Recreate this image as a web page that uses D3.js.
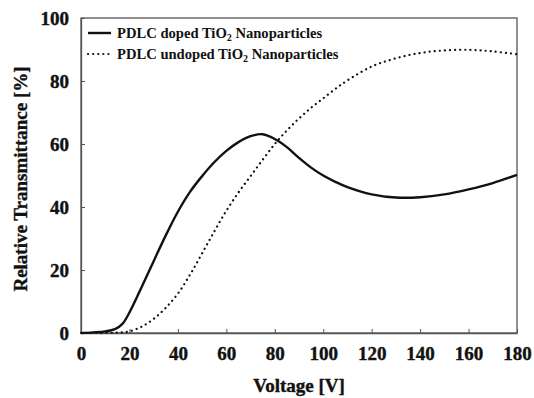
<!DOCTYPE html>
<html lang="en">
<head>
<meta charset="utf-8">
<title>Transmittance vs Voltage</title>
<script src="https://d3js.org/d3.v7.min.js"></script>
<style>
  body { margin: 0; background: #fff; }
  text { font-family: "Liberation Serif", "Times New Roman", serif; font-weight: bold; fill: #111; }
</style>
</head>
<body>
<div id="chart"></div>
<script>
// data
const voltage = [0, 5, 10, 14, 17, 20, 25, 30, 35, 40, 45, 50, 55, 60, 65, 70, 75, 80, 85, 90, 95, 100, 105, 110, 120, 130, 140, 150, 160, 170, 180];
const doped   = [0, 0.2, 0.5, 1.2, 2.8, 6.5, 14.5, 22.8, 31, 38.5, 44.8, 49.8, 54.2, 57.8, 60.6, 62.5, 63.1, 61.6, 59, 55.6, 52.5, 50, 48, 46.3, 44, 43, 43.1, 44, 45.6, 47.6, 50.2];
const undoped = [0, 0, 0, 0.1, 0.2, 0.5, 2, 4.5, 8, 12.5, 18.5, 25.3, 32.2, 38.8, 44.6, 49.8, 55, 60, 64.3, 68.1, 71.5, 74.5, 77.5, 80.2, 84.6, 87.2, 88.9, 89.7, 89.9, 89.4, 88.5];
const xTicks = [0, 20, 40, 60, 80, 100, 120, 140, 160, 180];
const yTicks = [0, 20, 40, 60, 80, 100];
const seriesNames = ["PDLC doped TiO", "PDLC undoped TiO"];

const width = 534, height = 398;
const margin = {left: 81, right: 17, top: 18, bottom: 65};

const svg = d3.select("#chart").append("svg")
  .attr("width", width).attr("height", height);

const x = d3.scaleLinear().domain([0, 180]).range([margin.left, width - margin.right]);
const y = d3.scaleLinear().domain([0, 100]).range([height - margin.bottom, margin.top]);

// frame
svg.append("rect")
  .attr("x", x(0)).attr("y", y(100))
  .attr("width", x(180) - x(0)).attr("height", y(0) - y(100))
  .attr("fill", "none").attr("stroke", "#555").attr("stroke-width", 1.3);

// axes with inward ticks
const xAxis = svg.append("g")
  .attr("transform", `translate(0,${y(0)})`)
  .call(d3.axisBottom(x).tickValues(xTicks).tickSizeInner(-4).tickSizeOuter(0).tickPadding(14));
const yAxis = svg.append("g")
  .attr("transform", `translate(${x(0)},0)`)
  .call(d3.axisLeft(y).tickValues(yTicks).tickSizeInner(-4).tickSizeOuter(0).tickPadding(12));
[xAxis, yAxis].forEach(g => {
  g.attr("font-family", "'Liberation Serif', serif");
  g.select(".domain").attr("stroke", "#555").attr("stroke-width", 1.3);
  g.selectAll(".tick line").attr("stroke", "#555");
  g.selectAll(".tick text").style("font-size", "19px").attr("fill", "#111")
    .attr("stroke", "#111").attr("stroke-width", 0.4);
});

// lines
const line = d3.line().curve(d3.curveCatmullRom.alpha(0.5));
const dopedPts = voltage.map((v, i) => [x(v), y(doped[i])]);
const undopedPts = voltage.map((v, i) => [x(v), y(undoped[i])]);

svg.append("path").attr("d", line(undopedPts))
  .attr("fill", "none").attr("stroke", "#111").attr("stroke-width", 2.2)
  .attr("stroke-linecap", "round").attr("stroke-dasharray", "0.1 5");
svg.append("path").attr("d", line(dopedPts))
  .attr("fill", "none").attr("stroke", "#111").attr("stroke-width", 2.4);

// legend
const leg = svg.append("g");
[0, 1].forEach(i => {
  const ly = 33 + i * 21;
  leg.append("line").attr("x1", 88).attr("x2", 111).attr("y1", ly).attr("y2", ly)
    .attr("stroke", "#111").attr("stroke-width", i === 0 ? 2.4 : 2.2)
    .attr("stroke-linecap", i === 0 ? "butt" : "round")
    .attr("stroke-dasharray", i === 0 ? null : "0.1 5");
  const t = leg.append("text").attr("x", 117).attr("y", ly + 5).style("font-size", "14.6px");
  t.append("tspan").text(seriesNames[i]);
  t.append("tspan").attr("dy", 3).style("font-size", "10px").text("2");
  t.append("tspan").attr("dy", -3).text(" Nanoparticles");
});

// axis titles
svg.append("text")
  .attr("x", (x(0) + x(180)) / 2).attr("y", 392)
  .attr("text-anchor", "middle").style("font-size", "19px")
  .attr("stroke", "#111").attr("stroke-width", 0.4).text("Voltage [V]");
svg.append("text")
  .attr("transform", "translate(27,179) rotate(-90)")
  .attr("text-anchor", "middle").style("font-size", "19px")
  .attr("stroke", "#111").attr("stroke-width", 0.4).text("Relative Transmittance [%]");
</script>
</body>
</html>
